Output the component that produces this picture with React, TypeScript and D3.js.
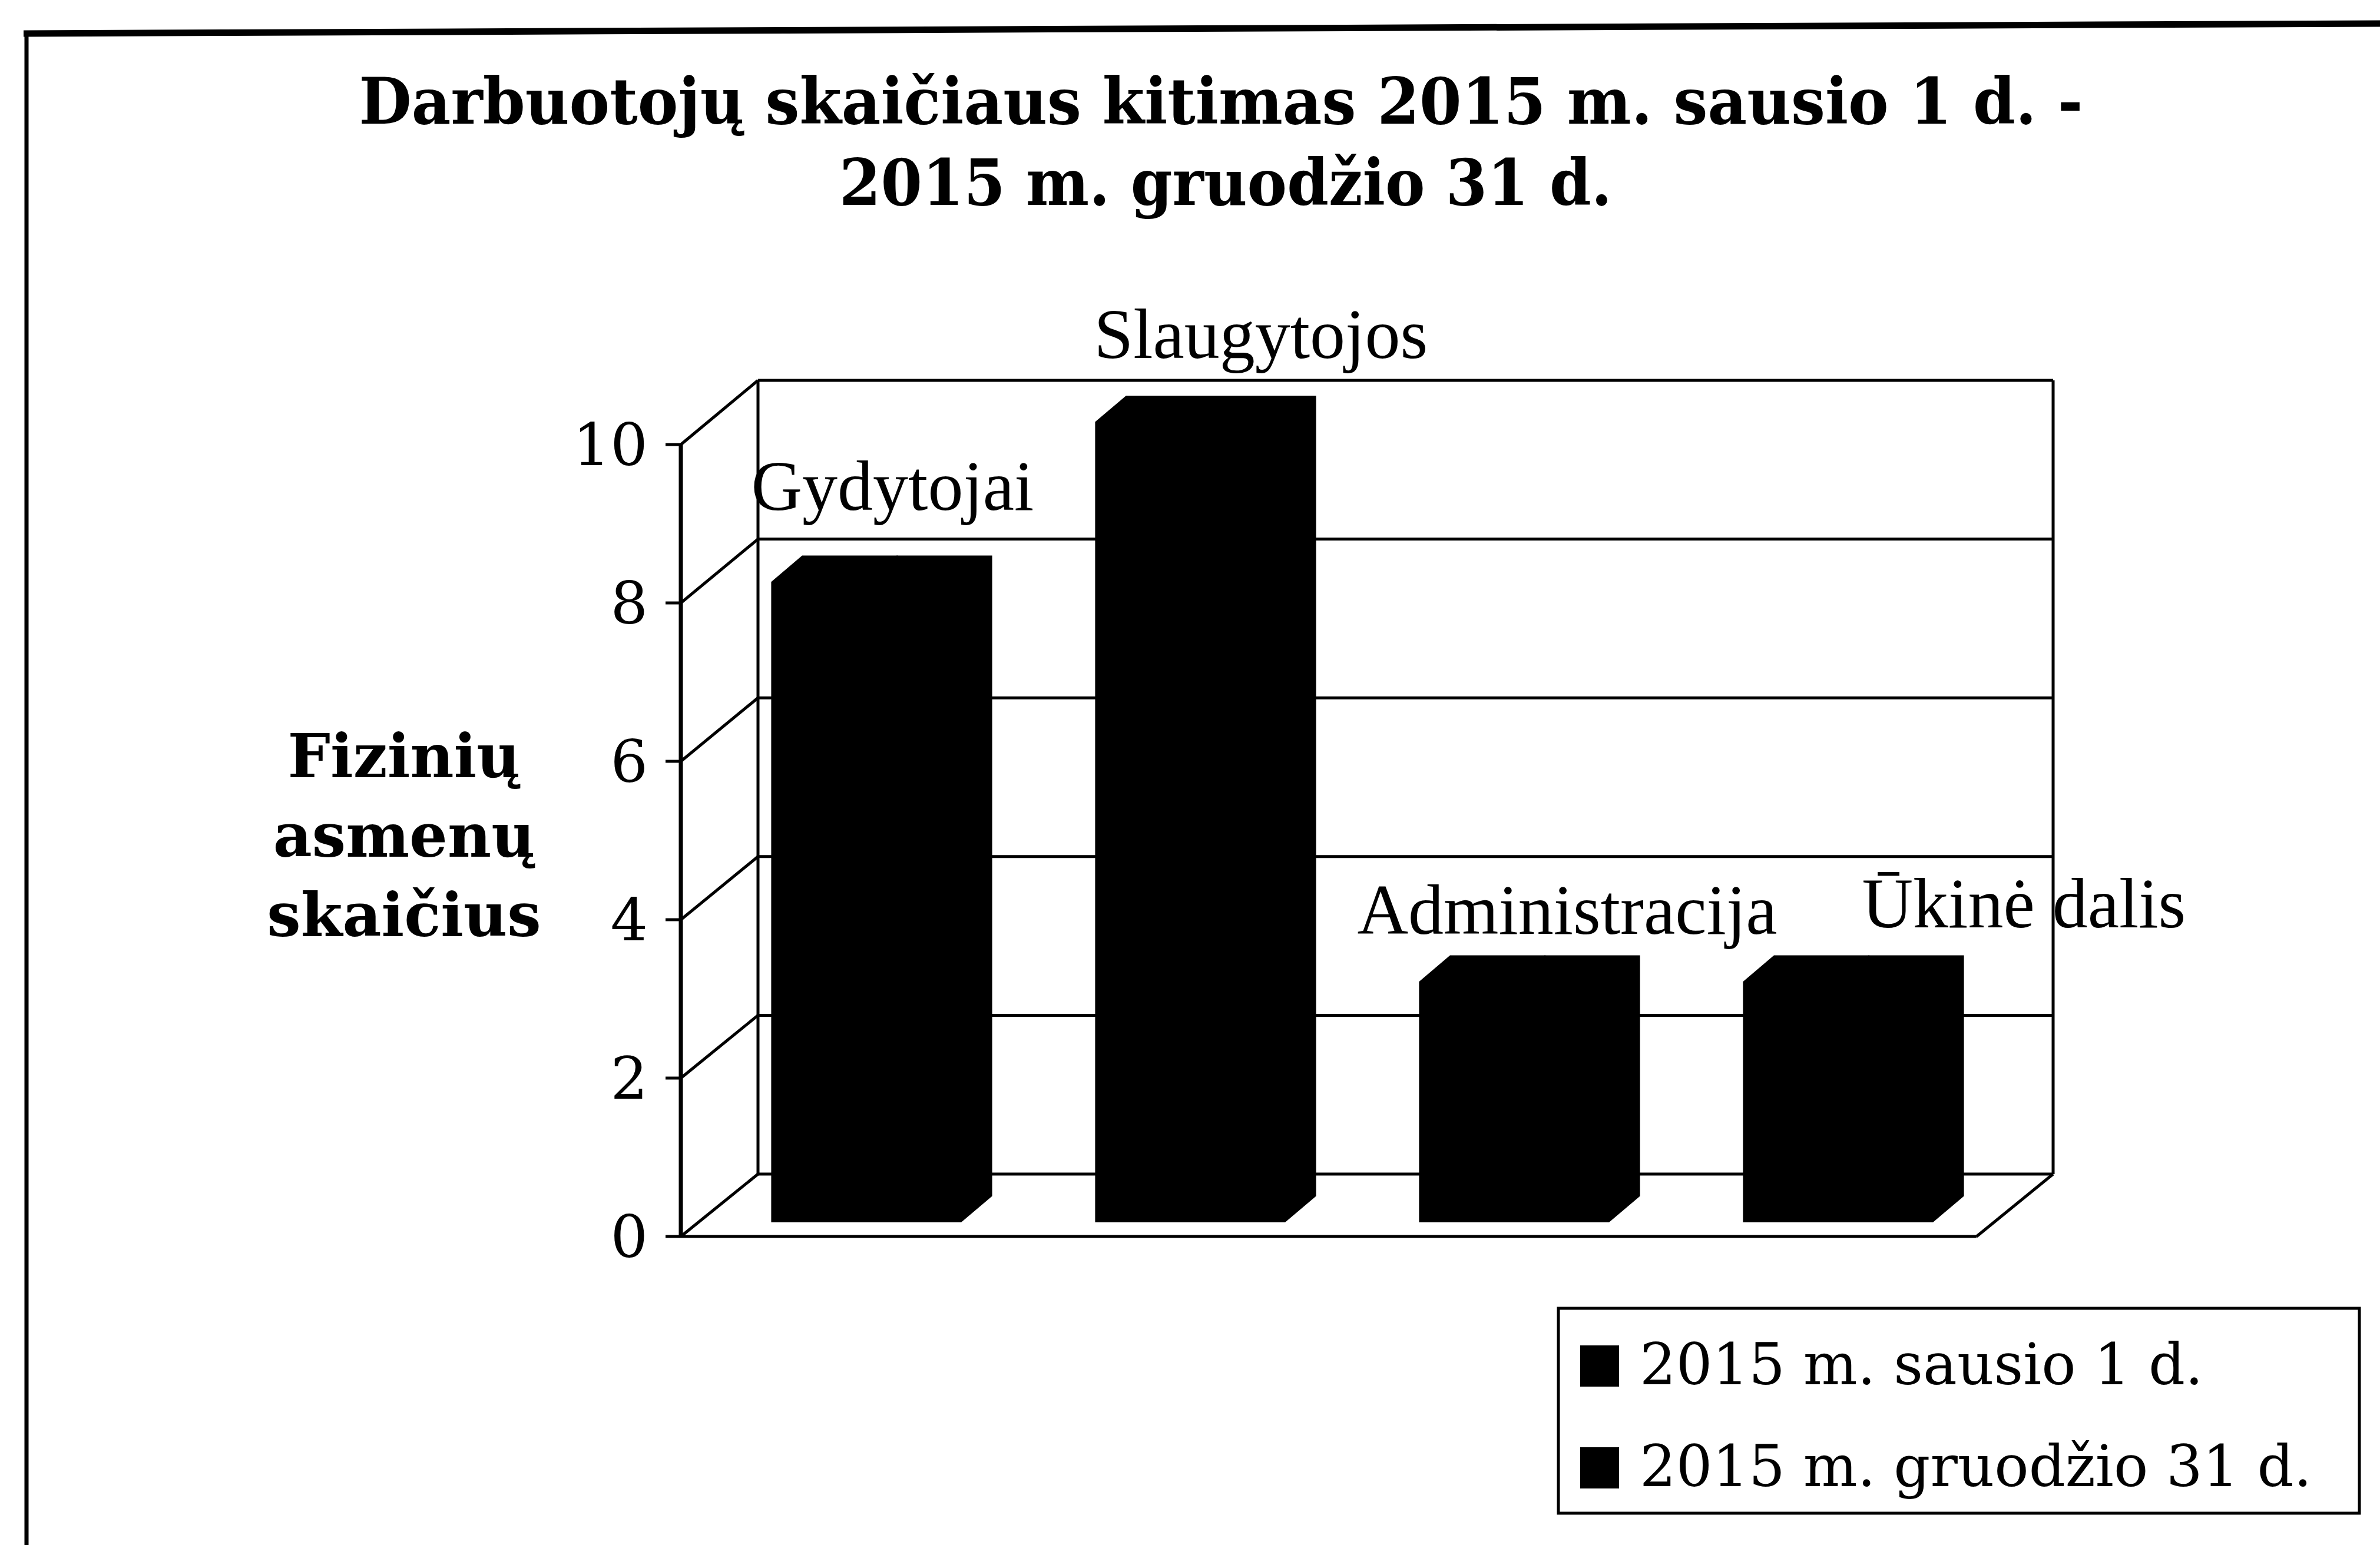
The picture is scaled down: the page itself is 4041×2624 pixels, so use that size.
import React from 'react'
import * as d3 from 'd3'

const categories = ['Gydytojai', 'Slaugytojos', 'Administracija', 'Ūkinė dalis']
const seriesNames = ['2015 m. sausio 1 d.', '2015 m. gruodžio 31 d.']
const sausio = [8, 10, 3, 3]
const gruodzio = [8, 10, 3, 3]
const yTicks = [0, 2, 4, 6, 8, 10]
const titleLines = ['Darbuotojų skaičiaus kitimas 2015 m. sausio 1 d. -', '2015 m. gruodžio 31 d.']
const yTitleLines = ['Fizinių', 'asmenų', 'skaičius']

const W = 4041
const H = 2624

// 3d box of the plot: front face and back wall
const front = { left: 1156, right: 3356 }
const back = { left: 1287, right: 3486 }
const depth = { dx: 52, dy: -44 } // bar depth
// hand placed label nudges (x from bar left, y from bar top)
const labelNudge = [
  [-35, -123],
  [-3, -109],
  [-106, -82],
  [201, -93],
]

const serif = '"DejaVu Serif", serif'
const times = '"Liberation Serif", "Times New Roman", serif'

export default function App() {
  const yFront = d3.scaleLinear().domain([0, 10]).range([2100, 755])
  const yBack = d3.scaleLinear().domain([0, 10]).range([1994, 646])
  const yBar = d3.scaleLinear().domain([0, 10]).range([2075, 717])

  const x = d3
    .scaleBand<string>()
    .domain(categories)
    .range([1196, 3396])
    .paddingInner(0.416)
    .paddingOuter(0.208)
  const xSub = d3.scaleBand<number>().domain([0, 1]).range([0, x.bandwidth()])

  const series = [sausio, gruodzio]
  const line = d3.line()

  const bars: JSX.Element[] = []
  // draw right-hand series first so the left one sits on top
  ;[1, 0].forEach((s) => {
    series[s].forEach((v, i) => {
      const x0 = (x(categories[i]) || 0) + (xSub(s) || 0)
      const w = xSub.bandwidth()
      const top = yBar(v)
      const bottom = yBar(0)
      const pts: [number, number][] = [
        [x0, bottom],
        [x0, top],
        [x0 + depth.dx, top + depth.dy],
        [x0 + w + depth.dx, top + depth.dy],
        [x0 + w + depth.dx, bottom + depth.dy],
        [x0 + w, bottom],
      ]
      bars.push(
        <path key={`b${s}-${i}`} d={line(pts) + 'Z'} fill="#000" stroke="#000" strokeWidth={2} />
      )
    })
  })

  const stroke = { stroke: '#000', strokeWidth: 5, fill: 'none' }

  return (
    <svg
      width={W}
      height={H}
      viewBox={`0 0 ${W} ${H}`}
      style={{ position: 'absolute', left: 0, top: 0, background: '#fff' }}
    >
      <rect x={0} y={0} width={W} height={H} fill="#fff" />
      {/* outer frame */}
      <line x1={40} y1={57} x2={W} y2={40} stroke="#000" strokeWidth={11} />
      <line x1={45} y1={52} x2={45} y2={H} stroke="#000" strokeWidth={7} />

      {/* title */}
      {titleLines.map((t, i) => (
        <text
          key={t}
          x={i === 0 ? 2073 : 2081}
          y={i === 0 ? 210 : 348}
          textAnchor="middle"
          fontFamily={serif}
          fontWeight="bold"
          fontSize={108}
          textLength={i === 0 ? 2927 : 1312}
          lengthAdjust="spacingAndGlyphs"
        >
          {t}
        </text>
      ))}

      {/* walls and gridlines */}
      {yTicks.map((t) => (
        <g key={`g${t}`}>
          <line x1={back.left} x2={back.right} y1={yBack(t)} y2={yBack(t)} {...stroke} />
          <line x1={front.left} x2={back.left} y1={yFront(t)} y2={yBack(t)} {...stroke} />
          <line x1={front.left - 26} x2={front.left} y1={yFront(t)} y2={yFront(t)} {...stroke} />
          <text
            x={1100}
            y={yFront(t)}
            textAnchor="end"
            dominantBaseline="central"
            fontFamily={serif}
            fontSize={100}
          >
            {t}
          </text>
        </g>
      ))}
      <line x1={front.left} x2={front.left} y1={yFront(10)} y2={yFront(0)} stroke="#000" strokeWidth={7} />
      <line x1={back.left} x2={back.left} y1={yBack(10)} y2={yBack(0)} {...stroke} />
      <line x1={back.right} x2={back.right} y1={yBack(10)} y2={yBack(0)} {...stroke} />
      <line x1={front.left} x2={front.right} y1={yFront(0)} y2={yFront(0)} {...stroke} />
      <line x1={front.right} x2={back.right} y1={yFront(0)} y2={yBack(0)} {...stroke} />

      {bars}

      {/* category labels */}
      {categories.map((c, i) => (
        <text
          key={c}
          x={(x(c) || 0) + labelNudge[i][0]}
          y={yBar(Math.max(sausio[i], gruodzio[i])) + labelNudge[i][1]}
          fontFamily={times}
          fontSize={120}
        >
          {c}
        </text>
      ))}

      {/* y axis title */}
      {yTitleLines.map((t, i) => (
        <text
          key={t}
          x={686}
          y={1320 + i * 135}
          textAnchor="middle"
          fontFamily={serif}
          fontWeight="bold"
          fontSize={102}
        >
          {t}
        </text>
      ))}

      {/* legend */}
      <rect x={2646} y={2222} width={1360} height={348} fill="#fff" stroke="#000" strokeWidth={5} />
      {seriesNames.map((n, i) => (
        <g key={n} transform={`translate(2683,${2285 + i * 173})`}>
          <rect x={0} y={0} width={66} height={70} fill="#000" />
          <text x={101} y={66} fontFamily={serif} fontSize={97}>
            {n}
          </text>
        </g>
      ))}
    </svg>
  )
}
